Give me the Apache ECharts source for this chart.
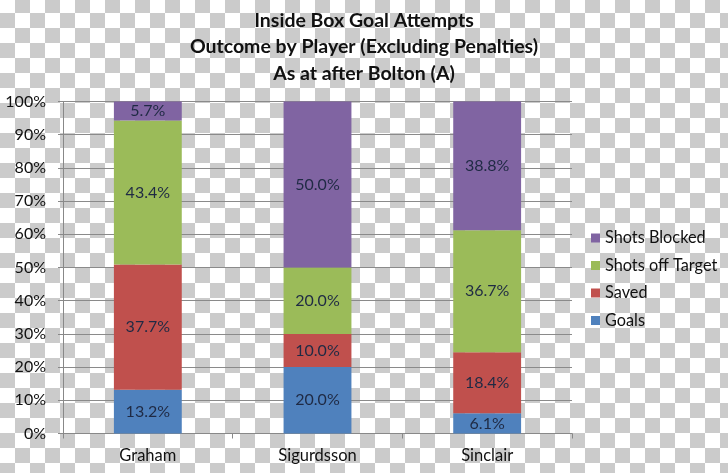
<!DOCTYPE html>
<html>
<head>
<meta charset="utf-8">
<script src="https://cdn.jsdelivr.net/npm/echarts@6/dist/echarts.min.js"></script>
<style>
  html, body {
    margin: 0;
    padding: 0;
  }
  body {
    width: 728px;
    height: 473px;
    background: conic-gradient(#cbcbcb 25%, #fff 0 50%, #cbcbcb 0 75%, #fff 0);
    background-size: 30px 30px;
    background-position: 0 -2px;
  }
  #chart {
    width: 728px;
    height: 473px;
  }
</style>
</head>
<body>
<div id="chart"></div>
<script>
const players = ['Graham', 'Sigurdsson', 'Sinclair']
const goals = [13.2, 20.0, 6.1]
const saved = [37.7, 10.0, 18.4]
const offTarget = [43.4, 20.0, 36.7]
const blocked = [5.7, 50.0, 38.8]
const legendOrder = ['Shots Blocked', 'Shots off Target', 'Saved', 'Goals']

const FONT = 'Lato, "Open Sans", sans-serif'
const labelColor = '#1f2a44'

function stackSeries(name, data, color) {
  return {
    name,
    type: 'bar',
    stack: 'total',
    barWidth: '40%',
    data,
    itemStyle: { color },
    label: {
      show: true,
      position: 'inside',
      formatter: (p) => p.value.toFixed(1) + '%',
      color: labelColor,
      fontFamily: FONT,
      fontSize: 16,
    },
  }
}

const chart = echarts.init(document.getElementById('chart'))
chart.setOption({
  backgroundColor: 'transparent',
  animation: false,
  title: {
    text: 'Inside Box Goal Attempts\nOutcome by Player (Excluding Penalties)\nAs at after Bolton (A)',
    left: 'center',
    top: 7,
    padding: 0,
    textStyle: {
      fontFamily: FONT,
      fontSize: 19.5,
      fontWeight: 'bold',
      color: '#111',
      lineHeight: 26.5,
    },
  },
  legend: {
    orient: 'vertical',
    left: 591,
    top: 229,
    padding: 0,
    data: legendOrder,
    icon: 'rect',
    itemWidth: 9,
    itemHeight: 9,
    itemGap: 9.5,
    textStyle: {
      fontFamily: FONT,
      fontSize: 16.3,
      color: '#111',
      lineHeight: 18,
    },
  },
  grid: { left: 63, right: 156, top: 101.5, bottom: 39.5 },
  xAxis: {
    type: 'category',
    data: players,
    axisLine: { lineStyle: { color: '#888', width: 1 } },
    axisTick: { show: true, length: 5, lineStyle: { color: '#888' } },
    axisLabel: { color: '#111', fontFamily: FONT, fontSize: 16.5, margin: 14 },
  },
  yAxis: {
    type: 'value',
    min: 0,
    max: 100,
    interval: 10,
    axisLine: { show: true, lineStyle: { color: '#888' } },
    axisTick: { show: true, length: 5, lineStyle: { color: '#888' } },
    splitLine: { show: true, lineStyle: { color: '#8a8a8a', width: 1 } },
    axisLabel: {
      color: '#111',
      fontFamily: FONT,
      fontSize: 16,
      margin: 17,
      formatter: '{value}%',
    },
  },
  series: [
    stackSeries('Goals', goals, '#4f81bd'),
    stackSeries('Saved', saved, '#c0504d'),
    stackSeries('Shots off Target', offTarget, '#9bbb59'),
    stackSeries('Shots Blocked', blocked, '#8064a2'),
  ],
})
</script>
</body>
</html>
